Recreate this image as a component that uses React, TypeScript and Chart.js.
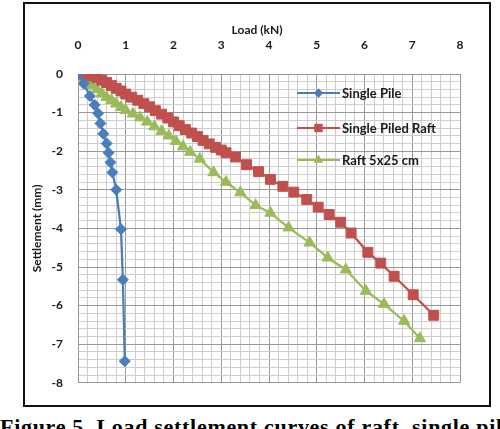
import React, { useEffect, useRef } from 'react';
import { Chart, registerables } from 'chart.js';

Chart.register(...registerables);

// ---------- data ----------
const xTickLabels = ['0', '1', '2', '3', '4', '5', '6', '7', '8'];
const yTickLabels = ['0', '-1', '-2', '-3', '-4', '-5', '-6', '-7', '-8'];

const seriesNames = ['Single Pile', 'Single Piled Raft', 'Raft 5x25 cm'];

const pileLoad = [0, 0.12, 0.25, 0.35, 0.42, 0.47, 0.53, 0.6, 0.64, 0.68, 0.72, 0.8, 0.9, 0.94, 0.98];
const pileSettlement = [0, -0.25, -0.57, -0.8, -1.02, -1.28, -1.55, -1.8, -2.04, -2.29, -2.55, -3.0, -4.02, -5.33, -7.44];

const pRaftLoad = [0, 0.1, 0.2, 0.3, 0.4, 0.5, 0.6, 0.7, 0.8, 0.9, 1.0, 1.12, 1.25, 1.38, 1.5, 1.62, 1.75, 1.88, 2.0, 2.12, 2.25, 2.38, 2.5, 2.62, 2.75, 2.88, 3.0, 3.1, 3.3, 3.53, 3.78, 4.03, 4.29, 4.52, 4.79, 5.03, 5.26, 5.5, 5.72, 6.07, 6.34, 6.62, 7.02, 7.45];
const pRaftSettlement = [0, 0, -0.02, -0.05, -0.1, -0.16, -0.22, -0.3, -0.37, -0.44, -0.52, -0.6, -0.68, -0.77, -0.85, -0.95, -1.04, -1.14, -1.24, -1.34, -1.44, -1.53, -1.62, -1.72, -1.81, -1.9, -1.97, -2.04, -2.15, -2.35, -2.53, -2.73, -2.91, -3.06, -3.25, -3.45, -3.64, -3.84, -4.12, -4.62, -4.9, -5.24, -5.72, -6.25];

const raftLoad = [0, 0.1, 0.2, 0.3, 0.4, 0.5, 0.6, 0.7, 0.8, 0.9, 1.0, 1.15, 1.3, 1.45, 1.6, 1.75, 1.9, 2.05, 2.2, 2.35, 2.55, 2.84, 3.1, 3.4, 3.72, 4.03, 4.41, 4.85, 5.23, 5.61, 6.03, 6.41, 6.83, 7.16];
const raftSettlement = [0, -0.1, -0.2, -0.3, -0.4, -0.5, -0.6, -0.68, -0.77, -0.86, -0.94, -1.03, -1.13, -1.24, -1.36, -1.48, -1.6, -1.74, -1.88, -2.02, -2.2, -2.55, -2.8, -3.07, -3.4, -3.6, -3.98, -4.37, -4.76, -5.07, -5.62, -5.96, -6.4, -6.85];

// ---------- styles ----------
const FONT = "Lato, 'Open Sans', 'Liberation Sans', sans-serif";
const COLORS = ['#4a7ebb', '#c0504d', '#9bbb59'];
const STYLES = ['rectRot', 'rect', 'triangle'];
const RADII = [5.5, 7, 6.5];

const isMajor = (v: number) => Math.abs(v - Math.round(v)) < 1e-6;
const gridColor = (ctx: any) => (ctx.tick && isMajor(ctx.tick.value) ? '#989898' : '#cdcdcd');

const zip = (xs: number[], ys: number[]) => xs.map((x, i) => ({ x, y: ys[i] }));

function drawMarker(c: CanvasRenderingContext2D, style: string, x: number, y: number, r: number, color: string) {
  c.save();
  c.fillStyle = color;
  c.beginPath();
  if (style === 'rectRot') {
    c.moveTo(x, y - r); c.lineTo(x + r, y); c.lineTo(x, y + r); c.lineTo(x - r, y);
  } else if (style === 'rect') {
    const s = r * Math.SQRT1_2;
    c.rect(x - s, y - s, 2 * s, 2 * s);
  } else {
    const h = r;
    c.moveTo(x, y - h); c.lineTo(x + h * 0.87, y + h * 0.5); c.lineTo(x - h * 0.87, y + h * 0.5);
  }
  c.closePath();
  c.fill();
  c.restore();
}

const overlayPlugin = {
  id: 'overlay',
  afterDraw(chart: any) {
    const c: CanvasRenderingContext2D = chart.ctx;
    const ca = chart.chartArea;
    c.save();
    // x axis title
    c.fillStyle = '#1a1a1a';
    c.font = `bold 12px ${FONT}`;
    c.textAlign = 'center';
    c.textBaseline = 'middle';
    c.fillText('Load (kN)', (ca.left + ca.right) / 2 - 12, 26);
    // legend
    const rows = [89, 124, 156];
    const x1 = ca.left + 219;
    const x2 = ca.left + 262;
    c.font = `bold 13px ${FONT}`;
    c.textAlign = 'left';
    seriesNames.forEach((name, i) => {
      const y = ca.top + rows[i] - 70;
      c.strokeStyle = COLORS[i];
      c.lineWidth = 2;
      c.beginPath();
      c.moveTo(x1, y);
      c.lineTo(x2, y);
      c.stroke();
      drawMarker(c, STYLES[i], (x1 + x2) / 2, y, RADII[i] * 0.85, COLORS[i]);
      c.fillStyle = '#1a1a1a';
      c.fillText(name, x2 + 2, y + 1);
    });
    c.restore();
  },
};

function LoadSettlementChart() {
  const ref = useRef<HTMLCanvasElement>(null);
  useEffect(() => {
    if (!ref.current) return;
    const seriesData = [zip(pileLoad, pileSettlement), zip(pRaftLoad, pRaftSettlement), zip(raftLoad, raftSettlement)];
    const chart = new Chart(ref.current, {
      type: 'scatter',
      data: {
        datasets: seriesNames.map((name, i) => ({
          label: name,
          data: seriesData[i],
          showLine: true,
          borderColor: COLORS[i],
          backgroundColor: COLORS[i],
          borderWidth: 2.25,
          pointStyle: STYLES[i] as any,
          pointRadius: RADII[i],
          pointBackgroundColor: COLORS[i],
          pointBorderColor: COLORS[i],
          pointBorderWidth: 1,
          tension: 0,
        })),
      },
      options: {
        responsive: false,
        animation: false,
        layout: { padding: { left: 0, right: 29, top: 0, bottom: 20 } },
        plugins: { legend: { display: false }, tooltip: { enabled: false } },
        scales: {
          x: {
            type: 'linear',
            position: 'top',
            min: Number(xTickLabels[0]),
            max: Number(xTickLabels[xTickLabels.length - 1]),
            afterFit: (s: any) => { s.height = 70; },
            ticks: {
              stepSize: 0.2,
              autoSkip: false,
              maxRotation: 0,
              padding: 22,
              color: '#1a1a1a',
              font: { family: FONT, size: 12, weight: 'bold' },
              callback: (v: any) => (isMajor(Number(v)) ? xTickLabels[Math.round(Number(v))] : ''),
            },
            grid: { color: gridColor, lineWidth: 1, drawTicks: false },
            border: { display: true, color: '#989898' },
          },
          y: {
            type: 'linear',
            min: Number(yTickLabels[yTickLabels.length - 1]),
            max: Number(yTickLabels[0]),
            afterFit: (s: any) => { s.width = 53; },
            ticks: {
              stepSize: 0.2,
              autoSkip: false,
              padding: 15,
              color: '#1a1a1a',
              font: { family: FONT, size: 12, weight: 'bold' },
              callback: (v: any) => (isMajor(Number(v)) ? yTickLabels[-Math.round(Number(v))] : ''),
            },
            grid: { color: gridColor, lineWidth: 1, drawTicks: false },
            border: { display: true, color: '#989898' },
            title: {
              display: true,
              text: 'Settlement (mm)',
              color: '#1a1a1a',
              padding: { top: 5, bottom: 0 },
              font: { family: FONT, size: 12, weight: 'bold' },
            },
          },
        },
      },
      plugins: [overlayPlugin],
    });
    return () => chart.destroy();
  }, []);

  return <canvas ref={ref} width={464} height={401} style={{ display: 'block' }} />;
}

export default function App() {
  return (
    <div style={{ position: 'absolute', left: 0, top: 0, width: 500, height: 429, overflow: 'hidden', background: '#fff' }}>
      <div
        style={{
          position: 'absolute',
          left: 23,
          top: 2,
          width: 468,
          height: 405,
          boxSizing: 'border-box',
          border: '2px solid #111',
          background: '#fff',
        }}
      >
        <LoadSettlementChart />
      </div>
      <div
        style={{
          position: 'absolute',
          left: 0,
          top: 414,
          whiteSpace: 'nowrap',
          fontFamily: "'Liberation Serif', 'Times New Roman', serif",
          fontWeight: 'bold',
          fontSize: 22,
          letterSpacing: 0.7,
          color: '#000',
        }}
      >
        Figure 5. Load settlement curves of raft, single pile and piled raft
      </div>
    </div>
  );
}
